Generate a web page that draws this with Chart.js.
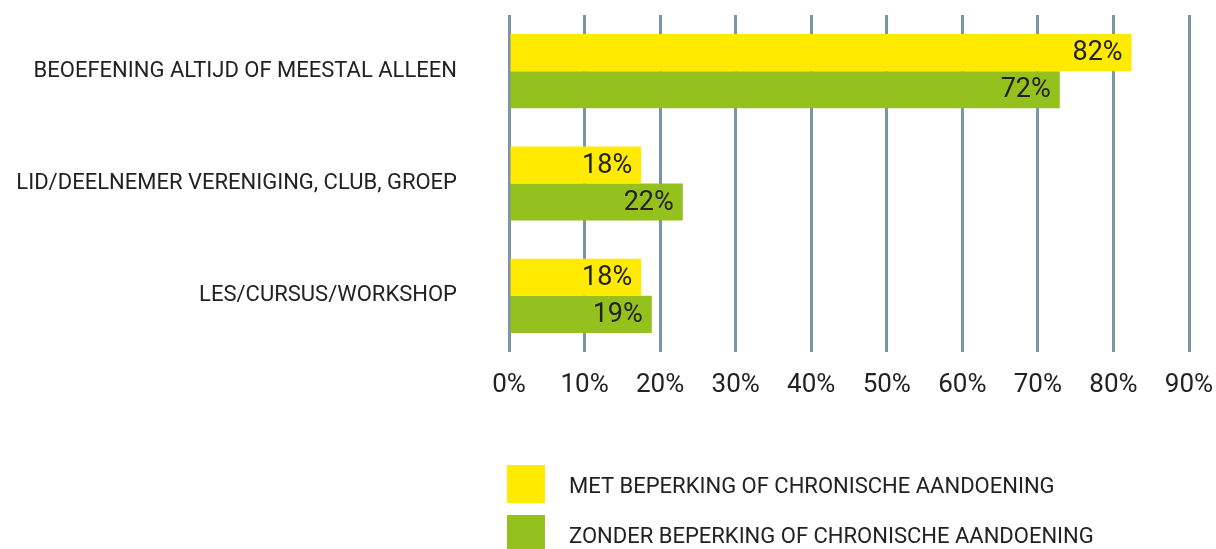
<!DOCTYPE html>
<html>
<head>
<meta charset="utf-8">
<script src="https://cdn.jsdelivr.net/npm/chart.js@4/dist/chart.umd.min.js"></script>
<style>
  html, body { margin: 0; padding: 0; background: #fff; }
  #wrap { width: 1216px; height: 549px; }
</style>
</head>
<body>
<div id="wrap"><canvas id="chart"></canvas></div>
<script>
const categories = [
  "BEOEFENING ALTIJD OF MEESTAL ALLEEN",
  "LID/DEELNEMER VERENIGING, CLUB, GROEP",
  "LES/CURSUS/WORKSHOP",
];
const metBeperking = [82.4, 17.5, 17.5];
const zonderBeperking = [72.9, 23.0, 18.9];
const metLabels = ["82%", "18%", "18%"];
const zonderLabels = ["72%", "22%", "19%"];
const seriesNames = [
  "MET BEPERKING OF CHRONISCHE AANDOENING",
  "ZONDER BEPERKING OF CHRONISCHE AANDOENING",
];

const YELLOW = "#ffea00";
const GREEN = "#95c11f";
const GRID = "#7a95a5";
const TEXT = "#222222";
const FONT = "Roboto, 'DejaVu Sans', sans-serif";

// value labels at the end of each bar
const barLabels = {
  id: "barLabels",
  afterDatasetsDraw(chart) {
    const ctx = chart.ctx;
    const texts = [metLabels, zonderLabels];
    ctx.save();
    ctx.font = "27px " + FONT;
    ctx.fillStyle = TEXT;
    ctx.textAlign = "right";
    ctx.textBaseline = "middle";
    chart.data.datasets.forEach((ds, i) => {
      chart.getDatasetMeta(i).data.forEach((bar, j) => {
        ctx.fillText(texts[i][j], bar.x - 9, bar.y + 1);
      });
    });
    ctx.restore();
  },
};

// legend stacked below the axis
const stackedLegend = {
  id: "stackedLegend",
  afterDraw(chart) {
    const ctx = chart.ctx;
    ctx.save();
    ctx.font = "22px " + FONT;
    ctx.textBaseline = "middle";
    chart.data.datasets.forEach((ds, i) => {
      const top = 465 + i * 50;
      ctx.fillStyle = ds.backgroundColor;
      ctx.fillRect(507, top, 38, 38);
      ctx.fillStyle = TEXT;
      ctx.fillText(ds.label, 569, top + 22);
    });
    ctx.restore();
  },
};

new Chart(document.getElementById("chart"), {
  type: "bar",
  data: {
    labels: categories,
    datasets: [
      { label: seriesNames[0], data: metBeperking, backgroundColor: YELLOW },
      { label: seriesNames[1], data: zonderBeperking, backgroundColor: GREEN },
    ],
  },
  options: {
    indexAxis: "y",
    responsive: true,
    maintainAspectRatio: false,
    animation: false,
    categoryPercentage: 0.66,
    barPercentage: 1,
    layout: { padding: { top: 15, right: 27, bottom: 147, left: 0 } },
    plugins: {
      legend: { display: false },
      tooltip: { enabled: false },
    },
    scales: {
      x: {
        min: 0,
        max: 90,
        border: { display: false },
        grid: { color: GRID, lineWidth: 3, drawTicks: false },
        ticks: {
          stepSize: 10,
          padding: 18,
          maxRotation: 0,
          color: TEXT,
          font: { family: FONT, size: 26 },
          callback: (v) => v + "%",
        },
        afterFit: (scale) => {
          scale.height = 50;
          scale.paddingLeft = 0;
          scale.paddingRight = 0;
        },
      },
      y: {
        border: { display: false },
        grid: { display: false, drawTicks: false },
        ticks: {
          padding: 52,
          color: TEXT,
          font: { family: FONT, size: 22 },
        },
        afterFit: (scale) => {
          scale.width = 509;
          scale.paddingTop = 0;
          scale.paddingBottom = 0;
        },
      },
    },
  },
  plugins: [barLabels, stackedLegend],
});
</script>
</body>
</html>
